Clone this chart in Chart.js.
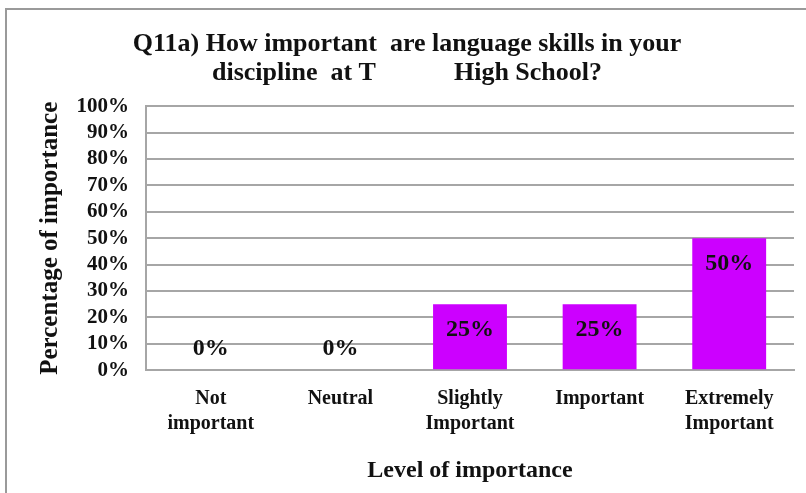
<!DOCTYPE html>
<html lang="en">

<head>
    <meta charset="UTF-8">
    <title>Q11a</title>
    <style>
        body { margin: 0; background: #fff; }
    </style>
</head>

<body>
    <canvas id="myChart" width="806" height="493"></canvas>

    <script src="https://cdn.jsdelivr.net/npm/chart.js"></script>

    <script>
        // datos
        const categories = [['Not', 'important'], ['Neutral'], ['Slightly', 'Important'], ['Important'], ['Extremely', 'Important']]
        const values = [0, 0, 25, 25, 50]
        const yTicks = [0, 10, 20, 30, 40, 50, 60, 70, 80, 90, 100]

        const serif = '"Liberation Serif", "Times New Roman", serif'
        const gridColor = '#a6a6a6'

        // marco exterior
        const frame = {
            id: 'frame',
            beforeDraw(chart) {
                const c = chart.ctx
                c.save()
                c.strokeStyle = '#9a9a9a'
                c.lineWidth = 2
                c.beginPath()
                c.moveTo(6, 493)
                c.lineTo(6, 9)
                c.lineTo(806, 9)
                c.stroke()
                c.restore()
            }
        }

        // etiquetas de valor
        const valueLabels = {
            id: 'valueLabels',
            afterDatasetsDraw(chart) {
                const c = chart.ctx
                const meta = chart.getDatasetMeta(0)
                c.save()
                c.font = 'bold 24px ' + serif
                c.fillStyle = '#111'
                c.textAlign = 'center'
                c.textBaseline = 'middle'
                meta.data.forEach((bar, i) => {
                    const y = values[i] > 0 ? bar.y + 26 : bar.base - 21
                    c.fillText(values[i] + '%', bar.x, y)
                })
                c.restore()
            }
        }

        const ctx = document.getElementById('myChart')
        const chart = new Chart(ctx, {
            type: 'bar',
            data: {
                labels: categories,
                datasets: [{
                    data: values,
                    backgroundColor: '#cc00ff',
                    barPercentage: 0.57,
                    categoryPercentage: 1
                }]
            },
            options: {
                responsive: false,
                animation: false,
                layout: { padding: { left: 20, right: 12, top: 0, bottom: 8 } },
                plugins: {
                    legend: { display: false },
                    tooltip: { enabled: false },
                    title: {
                        display: true,
                        text: ['Q11a) How important  are language skills in your', 'discipline  at T            High School?'],
                        color: '#111',
                        font: { family: serif, size: 26, weight: 'bold', lineHeight: 1.12 },
                        padding: { top: 30, bottom: 18 }
                    }
                },
                scales: {
                    x: {
                        grid: { display: false, drawTicks: false },
                        border: { display: true, color: gridColor, width: 2 },
                        ticks: {
                            color: '#111',
                            font: { family: serif, size: 20, weight: 'bold', lineHeight: 1.25 },
                            padding: 16,
                            maxRotation: 0,
                            autoSkip: false
                        },
                        title: {
                            display: true,
                            text: 'Level of importance',
                            color: '#111',
                            font: { family: serif, size: 24, weight: 'bold' },
                            padding: { top: 4, bottom: 0 }
                        }
                    },
                    y: {
                        min: 0,
                        max: 100,
                        afterBuildTicks: (s) => { s.ticks = yTicks.map(v => ({ value: v })) },
                        afterFit: (s) => { s.width = 126 },
                        grid: { color: gridColor, lineWidth: 2, drawTicks: false },
                        border: { display: true, color: gridColor, width: 2 },
                        ticks: {
                            color: '#111',
                            font: { family: serif, size: 21, weight: 'bold' },
                            padding: 17,
                            autoSkip: false,
                            callback: v => v + '%'
                        },
                        title: {
                            display: true,
                            text: 'Percentage of importance',
                            color: '#111',
                            font: { family: serif, size: 25, weight: 'bold' },
                            padding: { top: 16, bottom: 0 }
                        }
                    }
                }
            },
            plugins: [frame, valueLabels]
        })
    </script>

</body>

</html>
